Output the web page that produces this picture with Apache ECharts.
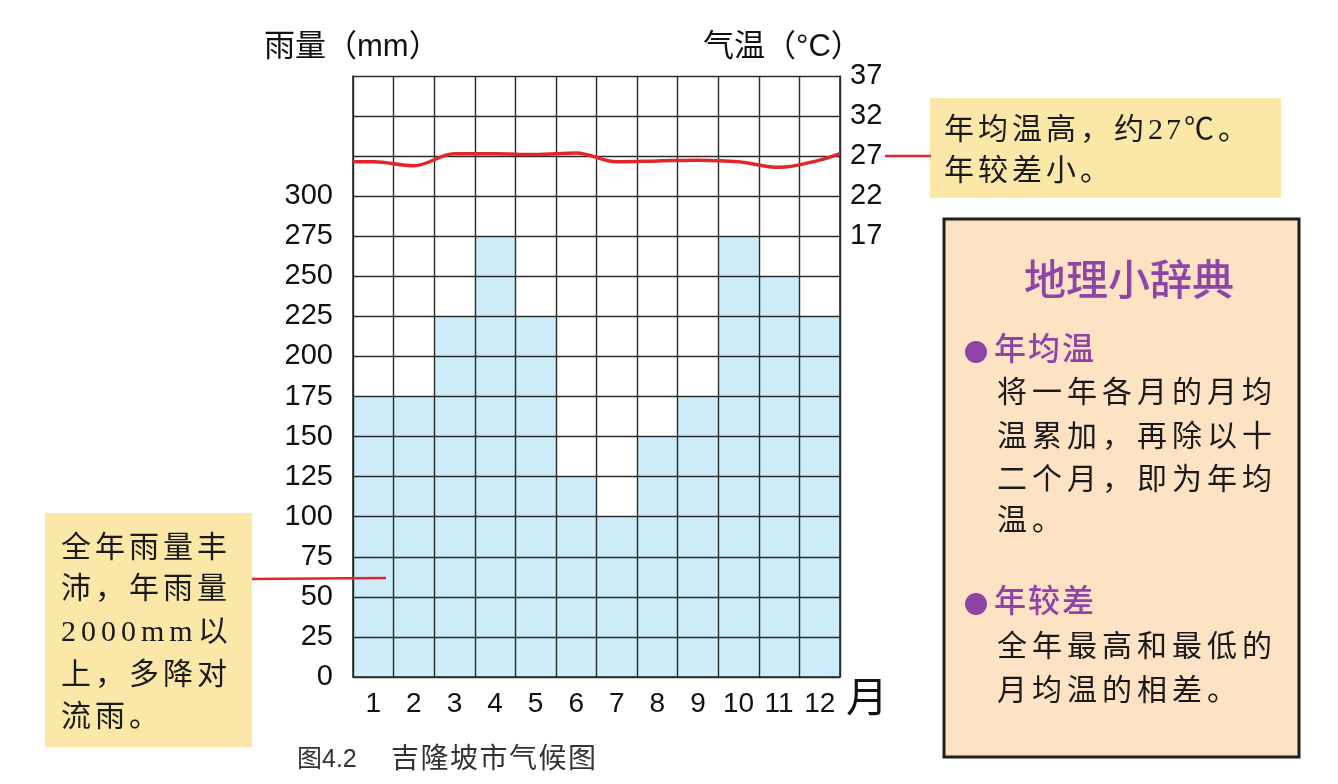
<!DOCTYPE html>
<html>
<head>
<meta charset="utf-8">
<script src="https://cdn.jsdelivr.net/npm/echarts@6/dist/echarts.min.js"></script>
<style>
html,body{margin:0;padding:0;background:#fff;}
#main{width:1338px;height:784px;}
</style>
</head>
<body>
<div id="main"></div>
<script>
// ---- data ----
var months = ['1','2','3','4','5','6','7','8','9','10','11','12'];
var rainfall = [175, 175, 225, 275, 225, 125, 100, 150, 175, 275, 250, 225];
var tempStart = 26.3;
var temperature = [26.3, 25.8, 27.3, 27.3, 27.2, 27.4, 26.3, 26.4, 26.5, 26.3, 25.6, 26.5];
var tempEnd = 27.3;
var rainTicks = [0, 25, 50, 75, 100, 125, 150, 175, 200, 225, 250, 275, 300];
var tempTicks = [17, 22, 27, 32, 37];

var tempPoints = [[0, tempStart]];
temperature.forEach(function (t, i) { tempPoints.push([i + 0.5, t]); });
tempPoints.push([12, tempEnd]);

var SERIF = "'Liberation Serif','Noto Sans CJK SC',serif";
var SANS = "'Liberation Sans','Noto Sans CJK SC',sans-serif";

var mctx = document.createElement('canvas').getContext('2d');
function measure(ch, font) { mctx.font = font; return mctx.measureText(ch).width; }

// helper: draws a line of text char by char with fixed pitch (CJK) / measured width + gap (ASCII)
function spacedText(str, x, y, size, cjkPitch, asciiGap, color, family, weight) {
  var els = [];
  var cx = x;
  var font = (weight || 'normal') + ' ' + size + 'px ' + family;
  for (var i = 0; i < str.length; i++) {
    var ch = str[i];
    els.push({
      type: 'text', x: cx, y: y, z: 100,
      style: { text: ch, fill: color, font: font, align: 'left', verticalAlign: 'middle' }
    });
    cx += (ch.charCodeAt(0) < 256) ? measure(ch, font) + asciiGap : cjkPitch;
  }
  return els;
}

var graphics = [];
// axis titles
graphics.push({ type: 'text', x: 264, y: 47, z: 100, style: { text: '雨量（mm）', fill: '#111', font: '31px ' + SANS, align: 'left', verticalAlign: 'middle' } });
graphics.push({ type: 'text', x: 703, y: 47, z: 100, style: { text: '气温（°C）', fill: '#111', font: '31px ' + SANS, align: 'left', verticalAlign: 'middle' } });
graphics.push({ type: 'text', x: 846, y: 700, z: 100, style: { text: '月', fill: '#111', font: '42px ' + SANS, align: 'left', verticalAlign: 'middle' } });
// caption
graphics.push({ type: 'text', x: 297, y: 760, z: 100, style: { text: '图4.2', fill: '#333', font: '25px ' + SANS, align: 'left', verticalAlign: 'middle' } });
graphics = graphics.concat(spacedText('吉隆坡市气候图', 391, 760, 28, 29.5, 0, '#333', SANS));

// top-right yellow note
graphics.push({ type: 'rect', z: 90, shape: { x: 930, y: 98, width: 351, height: 100 }, style: { fill: '#fbe8a8' } });
graphics.push({ type: 'line', z: 90, shape: { x1: 885, y1: 156, x2: 931, y2: 156 }, style: { stroke: '#e3262c', lineWidth: 2.5 } });
graphics = graphics.concat(spacedText('年均温高，约27℃。', 944, 131, 30, 34, 3, '#1a1a1a', SERIF));
graphics = graphics.concat(spacedText('年较差小。', 944, 172, 30, 34, 3, '#1a1a1a', SERIF));

// left yellow note
graphics.push({ type: 'rect', z: 90, shape: { x: 45, y: 513, width: 207, height: 234 }, style: { fill: '#fbe8a8' } });
graphics.push({ type: 'line', z: 90, shape: { x1: 252, y1: 579, x2: 386, y2: 578 }, style: { stroke: '#e3262c', lineWidth: 2.5 } });
var leftLines = ['全年雨量丰', '沛，年雨量', '2000mm以', '上，多降对', '流雨。'];
var leftY = [549, 590, 633, 676, 718];
leftLines.forEach(function (l, i) {
  graphics = graphics.concat(spacedText(l, 61, leftY[i], 30, 34, 5, '#1a1a1a', SERIF));
});

// dictionary box
graphics.push({ type: 'rect', z: 90, shape: { x: 944, y: 219, width: 355, height: 538 }, style: { fill: '#fde2c4', stroke: '#1f1f1f', lineWidth: 3 } });
graphics.push({ type: 'text', x: 1129, y: 283, z: 100, style: { text: '地理小辞典', fill: '#8e45a6', font: '500 42px ' + SANS, align: 'center', verticalAlign: 'middle' } });
graphics.push({ type: 'circle', z: 100, shape: { cx: 976, cy: 352, r: 11 }, style: { fill: '#8e45a6' } });
graphics = graphics.concat(spacedText('年均温', 994, 351, 32, 34, 3, '#8e45a6', SANS, '500'));
var defLines1 = ['将一年各月的月均', '温累加，再除以十', '二个月，即为年均', '温。'];
var defY1 = [394, 438, 481, 522];
defLines1.forEach(function (l, i) {
  graphics = graphics.concat(spacedText(l, 997, defY1[i], 30, 35, 3, '#1a1a1a', SERIF));
});
graphics.push({ type: 'circle', z: 100, shape: { cx: 976, cy: 604, r: 11 }, style: { fill: '#8e45a6' } });
graphics = graphics.concat(spacedText('年较差', 994, 603, 32, 34, 3, '#8e45a6', SANS, '500'));
var defLines2 = ['全年最高和最低的', '月均温的相差。'];
var defY2 = [648, 692];
defLines2.forEach(function (l, i) {
  graphics = graphics.concat(spacedText(l, 997, defY2[i], 30, 35, 3, '#1a1a1a', SERIF));
});

var chart = echarts.init(document.getElementById('main'), null, { renderer: 'canvas' });
chart.setOption({
  animation: false,
  backgroundColor: '#ffffff',
  grid: { left: 353, top: 76, width: 487, height: 601, containLabel: false },
  xAxis: [
    {
      type: 'category', data: months, boundaryGap: true, z: 10,
      axisLine: { show: true, lineStyle: { color: '#2a2a2a', width: 1.6 } },
      axisTick: { show: false },
      axisLabel: { interval: 0, fontSize: 28, color: '#111', margin: 13, fontFamily: 'Liberation Sans' },
      splitLine: { show: true, interval: 0, lineStyle: { color: '#2a2a2a', width: 1.4 } }
    },
    { type: 'value', min: 0, max: 12, show: false }
  ],
  yAxis: [
    {
      type: 'value', min: 0, max: 375, interval: 25, z: 10,
      axisLine: { show: true, lineStyle: { color: '#2a2a2a', width: 1.6 } },
      axisTick: { show: false },
      axisLabel: { customValues: rainTicks, fontSize: 29, color: '#111', margin: 20, fontFamily: 'Liberation Sans', padding: [5, 0, 0, 0] },
      splitLine: { show: true, lineStyle: { color: '#2a2a2a', width: 1.4 } }
    },
    {
      type: 'value', min: -38, max: 37, position: 'right', z: 10,
      axisLine: { show: true, lineStyle: { color: '#2a2a2a', width: 1.6 } },
      axisTick: { show: false },
      axisLabel: { customValues: tempTicks, fontSize: 29, color: '#111', margin: 10, fontFamily: 'Liberation Sans', padding: [2, 0, 0, 0] },
      splitLine: { show: false }
    }
  ],
  series: [
    {
      name: '降水量', type: 'bar', data: rainfall, xAxisIndex: 0, yAxisIndex: 0,
      barCategoryGap: '0%', itemStyle: { color: '#cbecf8' }, z: 2
    },
    {
      name: '气温', type: 'line', data: tempPoints, xAxisIndex: 1, yAxisIndex: 1,
      smooth: 0.35, showSymbol: false, z: 20,
      lineStyle: { color: '#e3262c', width: 3.5 }
    }
  ],
  graphic: graphics
});
</script>
</body>
</html>
